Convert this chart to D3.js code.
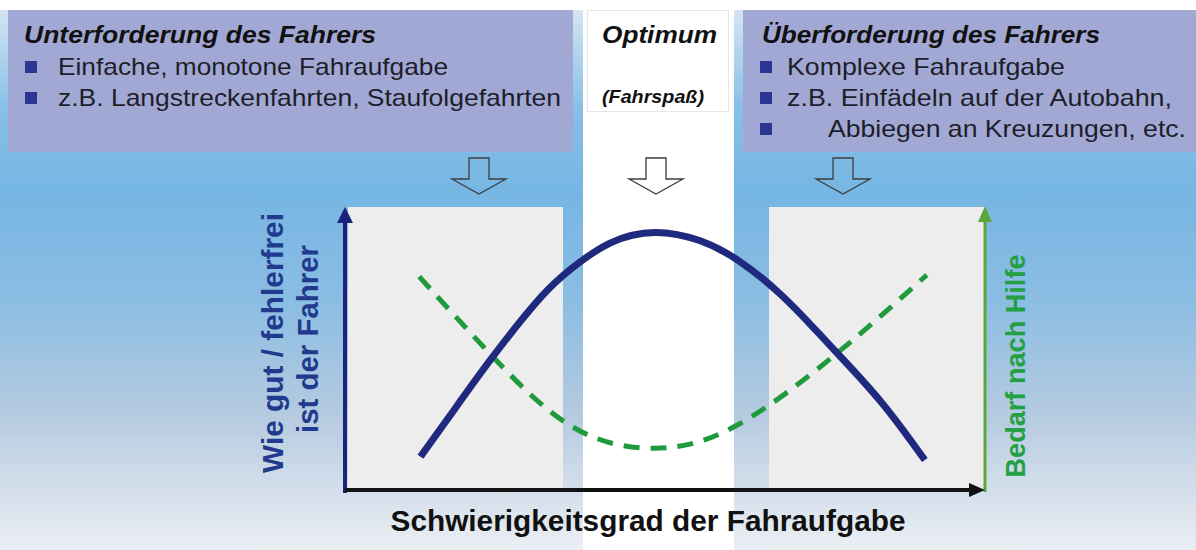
<!DOCTYPE html>
<html>
<head>
<meta charset="utf-8">
<script src="https://cdn.jsdelivr.net/npm/d3@7"></script>
<style>
  html, body { margin: 0; padding: 0; background: #fff; }
  svg { display: block; font-family: "Liberation Sans", Arial, Helvetica, sans-serif; }
</style>
</head>
<body>
<svg id="chart" width="1196" height="550"></svg>
<script>
// zone headings + bullet texts
const zoneTitles = ["Unterforderung des Fahrers", "Optimum", "Überforderung des Fahrers"];
const optimumNote = "(Fahrspaß)";
const leftBullets = ["Einfache, monotone Fahraufgabe", "z.B. Langstreckenfahrten, Staufolgefahrten"];
const rightBullets = ["Komplexe Fahraufgabe", "z.B. Einfädeln auf der Autobahn,", "Abbiegen an Kreuzungen, etc."];

// axis labels
const yLabelLeft = ["Wie gut / fehlerfrei", "ist der Fahrer"];
const yLabelRight = "Bedarf nach Hilfe";
const xLabel = "Schwierigkeitsgrad der Fahraufgabe";

// curves, difficulty 0..10, value 0..100
const perfX = [1.18, 1.67, 2.31, 3.05, 3.55, 4.14, 4.84, 5.55, 6.17, 6.80, 7.31, 7.69, 8.39, 9.06];
const perfY = [11.9, 27.5, 47.6, 68.6, 79.3, 88.2, 92.0, 89.0, 81.6, 70.0, 58.2, 48.9, 31.1, 10.7];
const helpX = [1.16, 2.31, 3.55, 4.84, 6.13, 7.69, 9.09];
const helpY = [76.2, 47.6, 22.6, 14.9, 23.2, 48.9, 76.8];

const svg = d3.select("#chart");
const W = 1196, H = 550;

const x = d3.scaleLinear().domain([0, 10]).range([345, 985]);
const y = d3.scaleLinear().domain([0, 100]).range([490, 210]);

// background gradient
const defs = svg.append("defs");
const grad = defs.append("linearGradient")
    .attr("id", "bg")
    .attr("gradientUnits", "userSpaceOnUse")
    .attr("x1", 0).attr("y1", 0).attr("x2", 0).attr("y2", H);
[[0, "#dce8f3"], [0.2, "#86bfe7"], [0.35, "#76b6e3"], [0.55, "#8cbde3"], [0.76, "#b6cbe0"], [1, "#eceff4"]]
  .forEach(s => grad.append("stop").attr("offset", s[0]).attr("stop-color", s[1]));

svg.append("rect").attr("width", W).attr("height", H).attr("fill", "#fff");
svg.append("rect").attr("y", 10).attr("width", W).attr("height", H - 10).attr("fill", "url(#bg)");

// white "optimum" column
svg.append("rect").attr("x", 583).attr("y", 10).attr("width", 151).attr("height", H - 10).attr("fill", "#fff");

// grey panels
svg.append("rect").attr("x", 348).attr("y", 207).attr("width", 215).attr("height", 283).attr("fill", "#ededed");
svg.append("rect").attr("x", 769).attr("y", 207).attr("width", 216).attr("height", 283).attr("fill", "#ededed");

// top boxes
svg.append("rect").attr("x", 8).attr("y", 10).attr("width", 565).attr("height", 142).attr("fill", "#a2a8d4");
svg.append("rect").attr("x", 743).attr("y", 10).attr("width", 453).attr("height", 142).attr("fill", "#a2a8d4");
svg.append("rect").attr("x", 587.5).attr("y", 10.5).attr("width", 141).attr("height", 101)
    .attr("fill", "#fff").attr("stroke", "#e6e6e6");

const titleStyle = sel => sel.attr("font-weight", "bold").attr("font-style", "italic")
    .attr("fill", "#111").attr("font-size", 24).attr("lengthAdjust", "spacingAndGlyphs");

svg.append("text").attr("x", 24).attr("y", 43).text(zoneTitles[0]).call(titleStyle).attr("textLength", 352);
svg.append("text").attr("x", 602).attr("y", 43).text(zoneTitles[1]).call(titleStyle).attr("textLength", 115);
svg.append("text").attr("x", 762).attr("y", 43).text(zoneTitles[2]).call(titleStyle).attr("textLength", 338);
svg.append("text").attr("x", 602).attr("y", 103).text(optimumNote).call(titleStyle)
    .attr("font-size", 18).attr("textLength", 102);

// bullets
const bulletRows = [
  { list: leftBullets, bx: 25, tx: [58, 58], base: [75, 106], len: [390, 503] },
  { list: rightBullets, bx: 760, tx: [787, 787, 828], base: [75, 106, 137], len: [278, 385, 358] }
];
bulletRows.forEach(r => {
  r.list.forEach((t, i) => {
    svg.append("rect").attr("x", r.bx).attr("y", r.base[i] - 14).attr("width", 12).attr("height", 12)
        .attr("fill", "#2b3592");
    svg.append("text").attr("x", r.tx[i]).attr("y", r.base[i]).text(t)
        .attr("font-size", 24).attr("fill", "#1e1e2a")
        .attr("textLength", r.len[i]).attr("lengthAdjust", "spacingAndGlyphs");
  });
});

// hollow down arrows
[479, 656, 843].forEach(cx => {
  svg.append("path")
    .attr("d", `M${cx - 10},158 L${cx + 10},158 L${cx + 10},179 L${cx + 27},179 L${cx},194 L${cx - 27},179 L${cx - 10},179 Z`)
    .attr("fill", "none").attr("stroke", "#3c3c3c").attr("stroke-width", 1.3);
});

// curves
const line = d3.line().x(d => x(d[0])).y(d => y(d[1])).curve(d3.curveNatural);

svg.append("path")
  .datum(helpX.map((v, i) => [v, helpY[i]]))
  .attr("d", line)
  .attr("fill", "none").attr("stroke", "#1f9a3c").attr("stroke-width", 5)
  .attr("stroke-dasharray", "16,11");

svg.append("path")
  .datum(perfX.map((v, i) => [v, perfY[i]]))
  .attr("d", line)
  .attr("fill", "none").attr("stroke", "#1f2a7e").attr("stroke-width", 7);

// axes
const x0 = x.range()[0], x1 = x.range()[1], y0 = y.range()[0];
svg.append("line").attr("x1", x0).attr("x2", x0).attr("y1", y0 + 3).attr("y2", 220)
    .attr("stroke", "#1b237a").attr("stroke-width", 4);
svg.append("path").attr("d", `M${x0},207 L${x0 + 8},223 L${x0 - 8},223 Z`).attr("fill", "#1b237a");

svg.append("line").attr("x1", x1).attr("x2", x1).attr("y1", y0 + 2).attr("y2", 220)
    .attr("stroke", "#5aa83a").attr("stroke-width", 3);
svg.append("path").attr("d", `M${x1},206 L${x1 + 7},222 L${x1 - 7},222 Z`).attr("fill", "#5aa83a");

svg.append("line").attr("x1", x0).attr("x2", x1 - 14).attr("y1", y0).attr("y2", y0)
    .attr("stroke", "#111").attr("stroke-width", 4);
svg.append("path").attr("d", `M${x1},${y0} L${x1 - 16},${y0 - 7} L${x1 - 16},${y0 + 7} Z`).attr("fill", "#111");

// axis labels
svg.append("text").attr("transform", "translate(283,343) rotate(-90)")
    .attr("text-anchor", "middle").attr("font-size", 30).attr("font-weight", "bold")
    .attr("fill", "#223a8e").text(yLabelLeft[0])
    .attr("textLength", 260).attr("lengthAdjust", "spacingAndGlyphs");
svg.append("text").attr("transform", "translate(318,339) rotate(-90)")
    .attr("text-anchor", "middle").attr("font-size", 30).attr("font-weight", "bold")
    .attr("fill", "#223a8e").text(yLabelLeft[1])
    .attr("textLength", 188).attr("lengthAdjust", "spacingAndGlyphs");
svg.append("text").attr("transform", "translate(1025,366) rotate(-90)")
    .attr("text-anchor", "middle").attr("font-size", 28).attr("font-weight", "bold")
    .attr("fill", "#22a043").text(yLabelRight)
    .attr("textLength", 223).attr("lengthAdjust", "spacingAndGlyphs");

svg.append("text").attr("x", 648).attr("y", 531)
    .attr("text-anchor", "middle").attr("font-size", 30).attr("font-weight", "bold")
    .attr("fill", "#111").text(xLabel)
    .attr("textLength", 515).attr("lengthAdjust", "spacingAndGlyphs");
</script>
</body>
</html>
